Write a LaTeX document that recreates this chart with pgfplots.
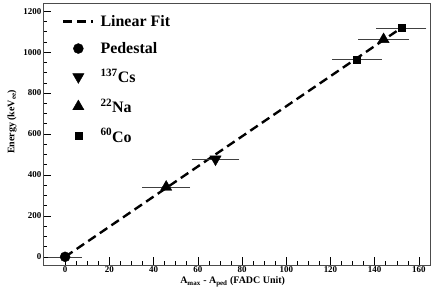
\documentclass[border=0pt]{standalone}
\usepackage{fontspec}
\setmainfont{Liberation Serif}
\usepackage{pgfplots}
\pgfplotsset{compat=1.18}
\begin{document}
\begin{tikzpicture}
\useasboundingbox (-43bp,-30bp) rectangle (393bp,265bp);
\begin{axis}[
  scale only axis, width=387bp, height=262bp,
  xmin=-10, xmax=165, ymin=-40, ymax=1240,
  xtick={0,20,...,160}, ytick={0,200,...,1200},
  minor x tick num=3, minor y tick num=3,
  xtick pos=left, ytick pos=left, tick align=inside,
  major tick length=8bp, minor tick length=4bp,
  tick style={black, line width=0.6pt},
  axis line style={black!70, line width=0.6pt},
  /pgf/number format/assume math mode=true,
  /pgf/number format/1000 sep={},
  ticklabel style={font=\fontsize{9}{10}\selectfont\bfseries},
  yticklabel style={inner sep=1.5bp},
  xticklabel style={inner sep=1.5bp},
  xlabel={A\textsubscript{max} - A\textsubscript{ped} (FADC Unit)},
  ylabel={Energy (keV\textsubscript{ee})},
  label style={font=\fontsize{10}{12}\selectfont\bfseries},
  xlabel style={at={(axis description cs:0.49,0)}, anchor=center, yshift=-17bp},
  ylabel style={at={(axis description cs:-0.080,0.546)}, anchor=center},
  legend style={draw=none, fill=none, at={(axis description cs:0.049,0.958)}, anchor=north west,
    font=\fontsize{16}{18}\selectfont\bfseries, inner sep=0pt, row sep=12.5bp,
    nodes={inner sep=1bp}},
  legend cell align=left,
  error bars/error bar style={black!75, line width=0.5pt},
  error bars/error mark options={black!75, line width=0.5pt, mark size=1.8bp},
]
% legend entries
\addlegendimage{legend image code/.code={\draw[black, line width=2.4pt, dash pattern=on 9bp off 5bp] (0bp,0bp) -- (30bp,0bp);}}
\addlegendentry{\hspace{5bp}Linear Fit}
\addlegendimage{legend image code/.code={\fill[black] (15bp,0bp) circle (5bp); \path[draw=none,fill=none] (0bp,0bp) -- (30bp,0bp);}}
\addlegendentry{\hspace{5bp}Pedestal}
\addlegendimage{legend image code/.code={\draw[black] plot[mark=triangle*, mark size=6.5bp, mark options={rotate=180}] coordinates {(15bp,0bp)}; \path[draw=none,fill=none] (0bp,0bp) -- (30bp,0bp);}}
\addlegendentry{\hspace{5bp}\textsuperscript{137}Cs}
\addlegendimage{legend image code/.code={\draw[black] plot[mark=triangle*, mark size=6.5bp] coordinates {(15bp,0bp)}; \path[draw=none,fill=none] (0bp,0bp) -- (30bp,0bp);}}
\addlegendentry{\hspace{5bp}\textsuperscript{22}Na}
\addlegendimage{legend image code/.code={\draw[black] plot[mark=square*, mark size=3.5bp] coordinates {(15bp,0bp)}; \path[draw=none,fill=none] (0bp,0bp) -- (30bp,0bp);}}
\addlegendentry{\hspace{5bp}\textsuperscript{60}Co}
% fit line
\addplot[forget plot, black, line width=2.4pt, dash pattern=on 9bp off 5bp] coordinates {(0,0) (152,1118)};
% data
\addplot[forget plot, only marks, mark=*, mark size=5bp, black,
  error bars/.cd, x dir=both, x explicit]
  coordinates {(0,0) +- (6.8,0)};
\addplot[forget plot, only marks, mark=triangle*, mark size=6.5bp, mark options={rotate=180}, black,
  error bars/.cd, x dir=both, x explicit]
  coordinates {(68,477) +- (10,0)};
\addplot[forget plot, only marks, mark=triangle*, mark size=6.5bp, black,
  error bars/.cd, x dir=both, x explicit]
  coordinates {(45.7,341) +- (10,0) (144,1062) +- (10.7,0)};
\addplot[forget plot, only marks, mark=square*, mark size=3.5bp, black,
  error bars/.cd, x dir=both, x explicit]
  coordinates {(132,963) +- (10.4,0) (152,1118) +- (10.5,0)};
\end{axis}
\end{tikzpicture}
\end{document}
